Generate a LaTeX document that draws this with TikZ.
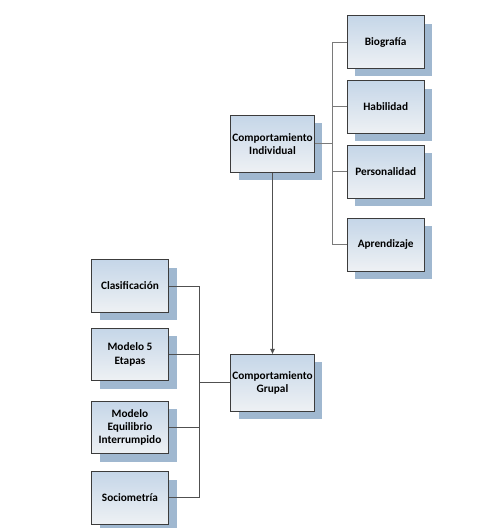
\documentclass[tikz,border=0pt]{standalone}
\usepackage{fontspec}
\setmainfont{Carlito}
\usepackage{tikz}
\usetikzlibrary{arrows.meta,positioning,calc,shadows}
\definecolor{boxtop}{HTML}{C5D6E8}
\definecolor{boxbottom}{HTML}{EEF1F4}
\definecolor{shadowblue}{HTML}{A0B8D0}
\definecolor{linegray}{HTML}{7A7A7A}
\definecolor{edgegray}{HTML}{3C3C3C}

\begin{document}
\begin{tikzpicture}[
  x=1pt, y=-1pt,
  font=\bfseries\fontsize{11.3}{13.3}\selectfont, >=Triangle,
  topic/.style={draw=edgegray, line width=0.7pt, top color=boxtop, bottom color=boxbottom,
    align=center, minimum width=77pt, minimum height=52.5pt, inner sep=1pt,
    drop shadow={shadow xshift=8pt, shadow yshift=-8pt, fill=shadowblue, opacity=1}},
  mainbox/.style={topic, minimum width=83.5pt, minimum height=57pt},
  link/.style={draw=linegray, line width=0.9pt},
  leftlink/.style={draw=edgegray!90, line width=0.8pt},
  arrow/.style={->, draw=edgegray!90, line width=0.7pt, >={Triangle[length=5pt,width=4.5pt]}}
]
\useasboundingbox (0,0) rectangle (492,528);

% -- The two main boxes.
\node[mainbox] (ci)  at (272.5,143.8) {Comportamiento\\Individual};
\node[mainbox] (gru) at (272.5,382.7) {Comportamiento\\Grupal};

% -- Right column: parts of individual behaviour.
\node[topic] (bio) at (385.7,42.0)  {Biografía};
\node[topic] (hab) at (385.7,106.8) {Habilidad};
\node[topic] (per) at (385.7,171.7) {Personalidad};
\node[topic] (apr) at (385.7,244.7) {Aprendizaje};

% -- Left column: parts of group behaviour.
\node[topic] (cla) at (130,286.0) {Clasificación};
\node[topic] (mod) at (130,354.3) {Modelo 5\\Etapas};
\node[topic] (equ) at (130,427.5) {Modelo\\Equilibrio\\Interrumpido};
\node[topic] (soc) at (130,497.8) {Sociometría};

% -- Buses.
\coordinate (rbus) at (332,0);
\coordinate (lbus) at (199.3,0);

\draw[link] (bio.west) -- (bio.west -| rbus) -- (apr.west -| rbus) -- (apr.west);
\foreach \n in {hab,per}
  \draw[link] (\n.west) -- (\n.west -| rbus);
\draw[link] (ci.east) -- (ci.east -| rbus);

\draw[leftlink] (cla.east) -- (cla.east -| lbus) -- (soc.east -| lbus) -- (soc.east);
\foreach \n in {mod,equ}
  \draw[leftlink] (\n.east) -- (\n.east -| lbus);
\draw[leftlink] (gru.west) -- (gru.west -| lbus);

% -- Individual feeds group.
\draw[arrow] (ci.south) -- (gru.north);
\end{tikzpicture}
\end{document}
